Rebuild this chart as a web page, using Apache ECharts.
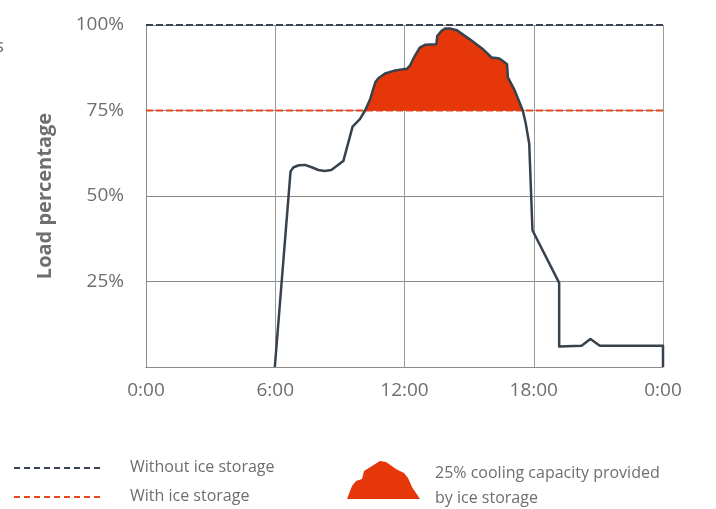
<!DOCTYPE html>
<html>
<head>
<meta charset="utf-8">
<script src="https://cdn.jsdelivr.net/npm/echarts@6/dist/echarts.min.js"></script>
<style>
  html, body { margin: 0; padding: 0; background: #fff; }
  #chart { width: 716px; height: 509px; }
</style>
</head>
<body>
<div id="chart"></div>
<script>
// hours of the day and load percentage
var hours = [5.98, 6.71, 6.85, 7.1, 7.38, 7.69, 8.0, 8.3, 8.6, 9.16, 9.59, 9.93, 10.17, 10.4, 10.55, 10.65, 10.8, 11.1, 11.5, 11.95, 12.1, 12.25, 12.48, 12.71, 12.95, 13.48, 13.52, 13.72, 13.9, 14.11, 14.42, 15.03, 15.65, 16.04, 16.35, 16.5, 16.76, 16.8, 17.12, 17.35, 17.49, 17.62, 17.79, 17.94, 19.18, 19.18, 20.22, 20.63, 21.07, 24, 24];
var load  = [0, 57.2, 58.4, 59.0, 59.1, 58.4, 57.6, 57.3, 57.6, 60.2, 70.3, 72.5, 75, 78.2, 81.3, 83.3, 84.5, 85.8, 86.6, 87.1, 87.1, 88.1, 91.0, 93.4, 94.2, 94.4, 96.8, 98.3, 99.0, 99.0, 98.5, 95.8, 92.9, 90.5, 90.3, 89.8, 88.5, 84.7, 80.8, 77.2, 75, 71.5, 65.3, 40.0, 24.6, 6.0, 6.2, 8.2, 6.2, 6.2, 0];
var withoutIce = 100;
var withIce = 75;
var yTicks = [0, 25, 50, 75, 100];
var xTicks = ['0:00', '6:00', '12:00', '18:00', '0:00'];

var curve = hours.map(function (h, i) { return [h, load[i]]; });
// part of the curve above the ice-storage line
var peak = curve.filter(function (p) { return p[1] >= withIce; });

var chart = echarts.init(document.getElementById('chart'));
var gray = '#6e6e6e';
var font = '"Open Sans", sans-serif';

var option = {
  animation: false,
  grid: { left: 146, right: 53, top: 25, bottom: 142 },
  xAxis: {
    type: 'value', min: 0, max: 24, interval: 6,
    axisLine: { lineStyle: { color: '#8a8a8a', width: 1 } },
    axisTick: { show: false },
    axisLabel: {
      color: gray, fontSize: 19, fontFamily: font, margin: 14,
      formatter: function (v) { return xTicks[v / 6]; }
    },
    splitLine: { show: true, lineStyle: { color: '#9a9a9a', width: 1 } }
  },
  yAxis: {
    type: 'value', min: 0, max: 100, interval: 25,
    name: 'Load percentage', nameLocation: 'middle', nameGap: 91,
    nameTextStyle: { color: gray, fontSize: 20, fontWeight: 'bold', fontFamily: font },
    axisLine: { show: true, lineStyle: { color: '#8a8a8a', width: 1 } },
    axisTick: { show: false },
    axisLabel: {
      color: gray, fontSize: 19, fontFamily: font, margin: 22,
      formatter: function (v) { return v === 0 ? '' : v + '%'; }
    },
    splitLine: { show: true, lineStyle: { color: '#8a8a8a', width: 1 } }
  },
  series: [
    {
      type: 'line', data: peak, symbol: 'none', silent: true, z: 3,
      lineStyle: { width: 0 },
      areaStyle: { color: '#e5370a', opacity: 1, origin: withIce }
    },
    {
      type: 'line', data: [[0, withIce], [24, withIce]], symbol: 'none', z: 2,
      lineStyle: { color: '#e8461e', width: 2, type: [7, 3] }
    },
    {
      type: 'line', data: [[0, withoutIce], [24, withoutIce]], symbol: 'none', z: 2,
      lineStyle: { color: '#3a4450', width: 2, type: [7, 3] }
    },
    {
      type: 'line', data: curve, symbol: 'none', z: 4,
      lineStyle: { color: '#37424c', width: 2.5, join: 'round' }
    }
  ],
  graphic: [
    { type: 'text', left: -5, top: 37, style: { text: 's', fill: gray, font: '19px ' + font } },
    { type: 'line', shape: { x1: 14, y1: 468, x2: 100, y2: 468 },
      style: { stroke: '#3a4450', lineWidth: 2, lineDash: [6, 4] } },
    { type: 'line', shape: { x1: 14, y1: 497, x2: 100, y2: 497 },
      style: { stroke: '#e8461e', lineWidth: 2, lineDash: [6, 4] } },
    { type: 'text', left: 130, top: 459, style: { text: 'Without ice storage', fill: gray, font: '16px ' + font } },
    { type: 'text', left: 130, top: 488, style: { text: 'With ice storage', fill: gray, font: '16px ' + font } },
    { type: 'polygon', shape: { points: [[347, 499], [352, 486], [356, 481], [362, 479], [364, 471], [372, 466], [380, 461], [386, 462], [396, 469], [404, 473], [408, 478], [412, 487], [420, 499]] },
      style: { fill: '#e5370a' } },
    { type: 'text', left: 435, top: 465, style: { text: '25% cooling capacity provided', fill: gray, font: '16px ' + font } },
    { type: 'text', left: 435, top: 490, style: { text: 'by ice storage', fill: gray, font: '16px ' + font } }
  ]
};

chart.setOption(option);
</script>
</body>
</html>
